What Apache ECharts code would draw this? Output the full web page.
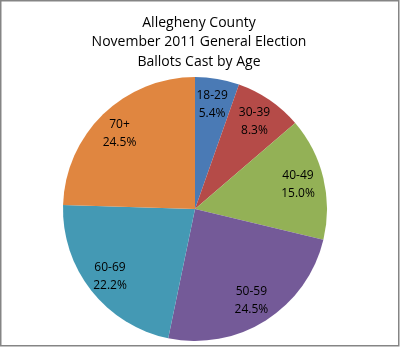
<!DOCTYPE html>
<html>
<head>
<meta charset="utf-8">
<script src="https://cdn.jsdelivr.net/npm/echarts@6/dist/echarts.min.js"></script>
<style>
html,body{margin:0;padding:0;background:#fff;}
#chart{width:400px;height:347px;}
</style>
</head>
<body>
<div id="chart"></div>
<script>
var categories = ['18-29', '30-39', '40-49', '50-59', '60-69', '70+'];
var values = [5.4, 8.3, 15.0, 24.5, 22.2, 24.5];
var colors = ['#4A7AB5', '#B54B48', '#93B156', '#745A98', '#4499B4', '#E08640'];
var titleText = 'Allegheny County\nNovember 2011 General Election\nBallots Cast by Age';

var data = categories.map(function (c, i) {
  return { name: c, value: values[i], itemStyle: { color: colors[i] } };
});
var labelData = categories.map(function (c, i) {
  return { name: c, value: values[i], itemStyle: { color: 'rgba(0,0,0,0)' } };
});

var chart = echarts.init(document.getElementById('chart'));
chart.setOption({
  animation: false,
  backgroundColor: '#fff',
  title: {
    text: titleText,
    left: 194,
    textAlign: 'center',
    top: 8,
    textStyle: { fontFamily: 'Open Sans', fontWeight: 'normal', fontSize: 14, lineHeight: 19.5, color: '#000' }
  },
  graphic: [{
    type: 'rect',
    shape: { x: 0.75, y: 0.75, width: 398, height: 345 },
    style: { fill: 'none', stroke: '#858585', lineWidth: 1.5 },
    silent: true
  }],
  series: [{
    type: 'pie',
    center: [195, 209],
    radius: [0, 132],
    startAngle: 90,
    clockwise: true,
    label: { show: false },
    labelLine: { show: false },
    silent: true,
    data: data
  }, {
    type: 'pie',
    center: [194, 210],
    radius: [78, 130],
    startAngle: 90,
    clockwise: true,
    label: {
      show: true,
      position: 'inside',
      fontFamily: 'Open Sans',
      fontSize: 12,
      lineHeight: 18,
      color: '#000',
      formatter: function (p) { return p.name + '\n' + p.value.toFixed(1) + '%'; }
    },
    labelLine: { show: false },
    silent: true,
    data: labelData
  }]
});
</script>
</body>
</html>
